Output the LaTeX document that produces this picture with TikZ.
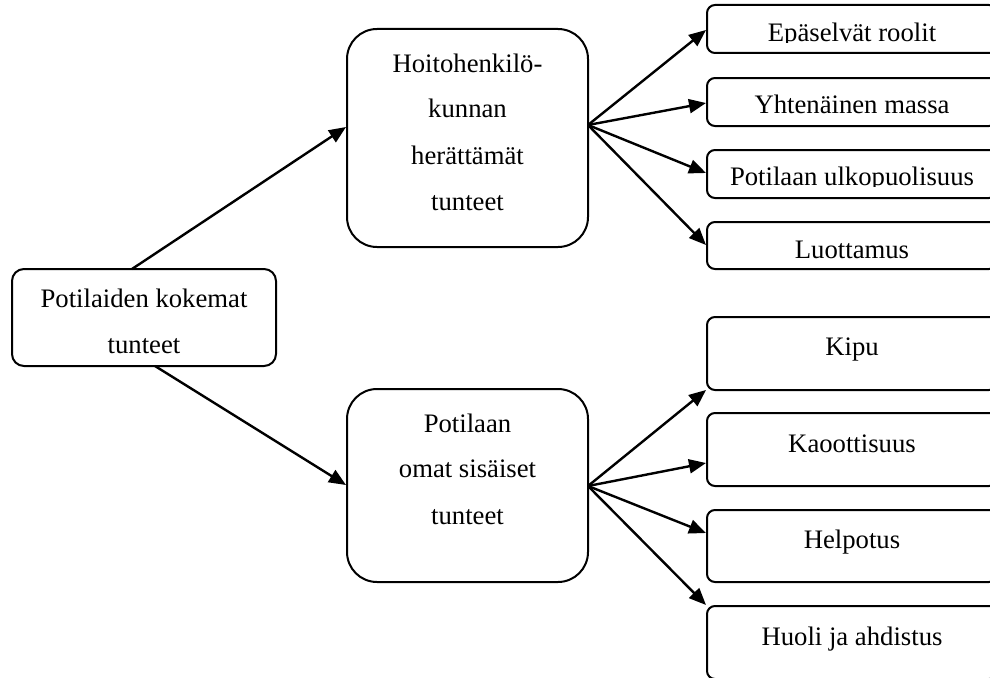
\documentclass[tikz,border=0pt]{standalone}
\usepackage{fontspec}
\setmainfont{Liberation Serif}
\usetikzlibrary{arrows.meta}
\begin{document}
\begin{tikzpicture}[x=1pt,y=-1pt,
  box/.style={draw, line width=2pt, inner sep=0pt, outer sep=0pt},
  bigbox/.style={box, rounded corners=30pt, minimum width=241pt},
  rbox/.style={box, rounded corners=8pt, minimum width=290pt},
  txt/.style={anchor=base, inner sep=0pt, font=\fontsize{26.7}{32}\selectfont},
  arr/.style={line width=2.4pt, -{Triangle[length=17pt,width=14pt]}}]
\useasboundingbox (0,0) rectangle (990,677);
\clip (0,0) rectangle (990,677);

% left box
\node[box, rounded corners=12pt, minimum width=264pt, minimum height=97pt] (L) at (144,317.5) {};
\node[txt] (l1) at (144,307) {Potilaiden kokemat};
\node[txt] (l2) at (144,353) {tunteet};

% middle boxes
\node[bigbox, minimum height=218pt] (H) at (467.5,138) {};
\node[txt] (h1) at (467.5,72) {Hoitohenkilö-};
\node[txt] (h2) at (467.5,117) {kunnan};
\node[txt] (h3) at (467.5,164) {herättämät};
\node[txt] (h4) at (467.5,210) {tunteet};

\node[bigbox, minimum height=193pt] (P) at (467.5,485.5) {};
\node[txt] (p1) at (467.5,432) {Potilaan};
\node[txt] (p2) at (467.5,477) {omat sisäiset};
\node[txt] (p3) at (467.5,524) {tunteet};

% right top boxes
\node[rbox, minimum height=48pt] (R1) at (852,29) {};
\node[rbox, minimum height=48pt] (R2) at (852,102) {};
\node[rbox, minimum height=48pt] (R3) at (852,174) {};
\node[rbox, minimum height=47pt] (R4) at (852,245.5) {};
\begin{scope}
\clip (700,0) rectangle (990,43);
\node[txt] (r1) at (852,42) {Epäselvät roolit};
\end{scope}
\node[txt] (r2) at (852,113) {Yhtenäinen massa};
\begin{scope}
\clip (700,150) rectangle (990,186);
\node[txt] (r3) at (852,185) {Potilaan ulkopuolisuus};
\end{scope}
\node[txt] (r4) at (852,258) {Luottamus};

% right bottom boxes
\node[rbox, minimum height=73pt] (B1) at (852,353.5) {};
\node[rbox, minimum height=73pt] (B2) at (852,449.5) {};
\node[rbox, minimum height=72pt] (B3) at (852,546) {};
\node[rbox, minimum height=73pt] (B4) at (852,642.5) {};
\node[txt] (b1) at (852,355) {Kipu};
\node[txt] (b2) at (852,452) {Kaoottisuus};
\node[txt] (b3) at (852,548) {Helpotus};
\node[txt] (b4) at (852,645) {Huoli ja ahdistus};

% connection points
\coordinate (Lt) at (132,269);
\coordinate (Lb) at (155,366);
\coordinate (Hin) at (346,127);
\coordinate (Pin) at (346,485);
\coordinate (Hout) at (588,125);
\coordinate (Pout) at (588,486);
\coordinate (R1in) at (706,30);
\coordinate (R2in) at (706,103);
\coordinate (R3in) at (706,173);
\coordinate (R4in) at (706,245);
\coordinate (B1in) at (706,390);
\coordinate (B2in) at (706,463);
\coordinate (B3in) at (706,533);
\coordinate (B4in) at (706,605);

\draw[arr] (Lt) -- (Hin);
\draw[arr] (Lb) -- (Pin);
\foreach \t in {R1in,R2in,R3in,R4in} \draw[arr] (Hout) -- (\t);
\foreach \t in {B1in,B2in,B3in,B4in} \draw[arr] (Pout) -- (\t);
\end{tikzpicture}
\end{document}
